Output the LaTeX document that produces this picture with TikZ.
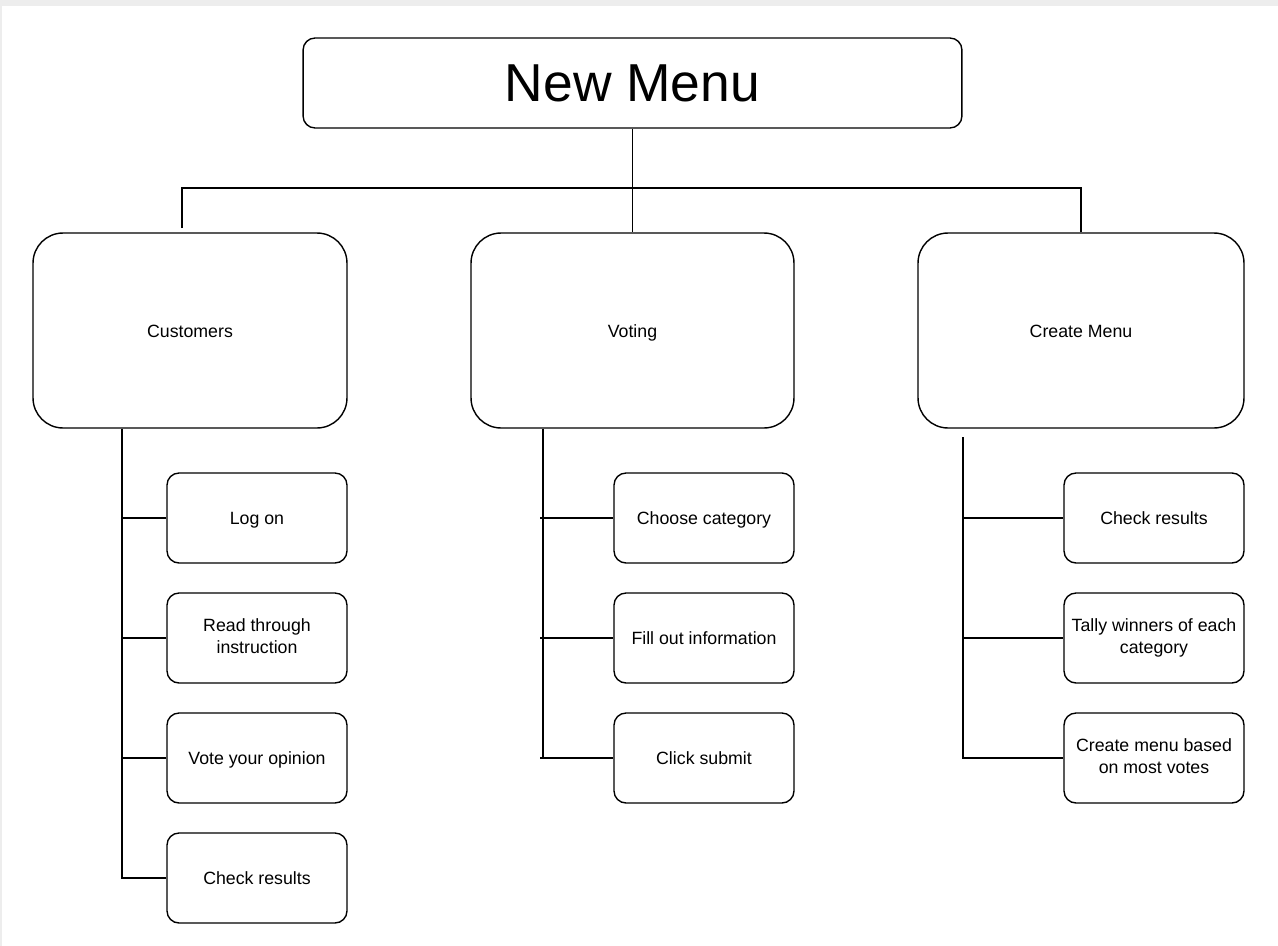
\documentclass[tikz,border=0pt]{standalone}
\usepackage{fontspec}
\setmainfont{Liberation Sans}
\usetikzlibrary{positioning}
\newcommand\boxstrut{\rule[-0.2\baselineskip]{0pt}{\baselineskip}}
\tikzset{
    title box/.style={draw,rounded corners=0.24cm,minimum width=13.18cm,minimum height=1.8cm,font=\fontsize{30.4}{36}\selectfont},
    group box/.style={draw,rounded corners=0.6cm,minimum height=3.9cm,font=\fontsize{10.1}{12.4}\selectfont,execute at begin node=\boxstrut},
    task box/.style={draw,rounded corners=0.24cm,minimum width=3.6cm,minimum height=1.8cm,align=center,font=\fontsize{10.1}{12.4}\selectfont,
        execute at begin node=\boxstrut,execute at end node=\boxstrut},
    every path/.style={line width=0.8pt}
}

\begin{document}
\begin{tikzpicture}[x=0.02cm,y=-0.02cm]
        \useasboundingbox (0,0) rectangle (1278,946);
        \fill[black!7] (0,0) rectangle (1278,6);
        \fill[black!7] (0,0) rectangle (2,946);

        \node[title box] (menu) at (632.5,83) {New Menu};

        \node[group box,minimum width=6.28cm] (cust) at (190,330.5) {Customers};
        \node[group box,minimum width=6.46cm] (vote) at (632.5,330.5) {Voting};
        \node[group box,minimum width=6.52cm] (create) at (1081,330.5) {Create Menu};

        \node[task box] (logon) at (257,518) {Log on};
        \node[task box] (read) at (257,638) {Read through\\instruction};
        \node[task box] (opinion) at (257,758) {Vote your opinion};
        \node[task box] (custres) at (257,878) {Check results};

        \node[task box] (category) at (704,518) {Choose category};
        \node[task box] (fill) at (704,638) {Fill out information};
        \node[task box] (submit) at (704,758) {Click submit};

        \node[task box] (checkres) at (1154,518) {Check results};
        \node[task box] (tally) at (1154,638) {Tally winners of each\\category};
        \node[task box] (based) at (1154,758) {Create menu based\\on most votes};

        % top level
        \coordinate (bar) at (632.5,188);
        \draw (menu.south) -- (vote.north);
        \draw (182,228) |- (bar) -| (create.north);

        % customers
        \draw (cust.south -| 122,0) |- (custres.west);
        \foreach \t in {logon,read,opinion}
            \draw (122,0 |- \t.west) -- (\t.west);

        % voting
        \draw (vote.south -| 543,0) -- (543,758);
        \foreach \t in {category,fill,submit}
            \draw (540,0 |- \t.west) -- (\t.west);

        % create menu
        \draw (963,437) |- (based.west);
        \foreach \t in {checkres,tally}
            \draw (963,0 |- \t.west) -- (\t.west);
    \end{tikzpicture}
\end{document}
